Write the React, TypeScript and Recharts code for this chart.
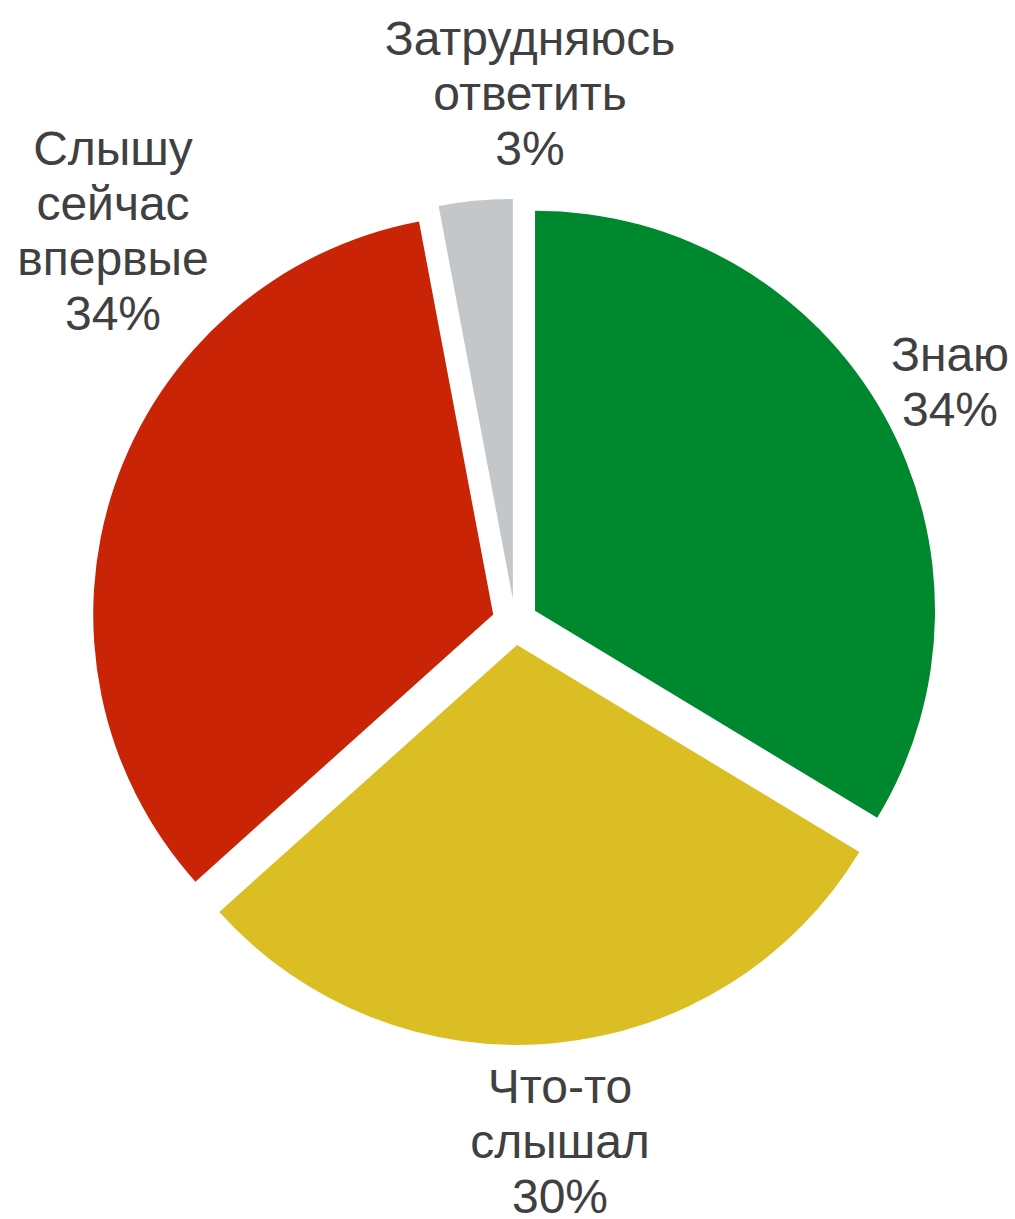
import React from 'react';
import { PieChart, Pie, Cell } from 'recharts';

const categories = ['Знаю', 'Что-то слышал', 'Слышу сейчас впервые', 'Затрудняюсь ответить'];
const values = [34, 30, 34, 3];
const colors = ['#00882e', '#dbbe23', '#c82405', '#c4c7ca'];

// label placement relative to the pie centre (text centre x, first baseline y)
const labelOffsets = [
  { dx: 435, dy: -251 },
  { dx: 45, dy: 481 },
  { dx: -402, dy: -457 },
  { dx: 15, dy: -567 },
];

const CX = 515;
const CY = 622;
const RADIUS = 400;
const EXPLODE = 23;
const LINE = 55;

const data = categories.map((name, i) => ({ name, value: values[i] }));
const total = values.reduce((a, b) => a + b, 0);

// mid angle of each slice, degrees clockwise from 12 o'clock
const midAngles = values.map((v, i) => {
  const before = values.slice(0, i).reduce((a, b) => a + b, 0);
  return ((before + v / 2) / total) * 360;
});

const App: React.FC = () => {
  return (
    <div style={{ position: 'absolute', left: 0, top: 0, background: '#fff' }}>
      <PieChart width={1015} height={1219} margin={{ top: 0, right: 0, bottom: 0, left: 0 }}>
        {data.map((entry, idx) => {
          const rad = (midAngles[idx] * Math.PI) / 180;
          const pcx = CX + EXPLODE * Math.sin(rad);
          const pcy = CY - EXPLODE * Math.cos(rad);
          return (
            <Pie
              key={entry.name}
              data={data}
              dataKey="value"
              nameKey="name"
              cx={pcx}
              cy={pcy}
              outerRadius={RADIUS}
              innerRadius={0}
              startAngle={90}
              endAngle={-270}
              isAnimationActive={false}
              labelLine={false}
              label={(props: any) => {
                if (props.index !== idx) return null;
                const off = labelOffsets[idx];
                const x = CX + off.dx;
                const y = CY + off.dy;
                const lines = [...categories[idx].split(' '), `${values[idx]}%`];
                return (
                  <text
                    x={x}
                    y={y}
                    textAnchor="middle"
                    fill="#404040"
                    fontSize={48}
                    fontFamily="'Liberation Sans', Arial, sans-serif"
                  >
                    {lines.map((l, k) => (
                      <tspan key={k} x={x} dy={k === 0 ? 0 : LINE}>
                        {l}
                      </tspan>
                    ))}
                  </text>
                );
              }}
            >
              {data.map((d, i) => (
                <Cell
                  key={d.name}
                  fill={i === idx ? colors[i] : 'transparent'}
                  stroke="none"
                />
              ))}
            </Pie>
          );
        })}
      </PieChart>
    </div>
  );
};

export default App;
